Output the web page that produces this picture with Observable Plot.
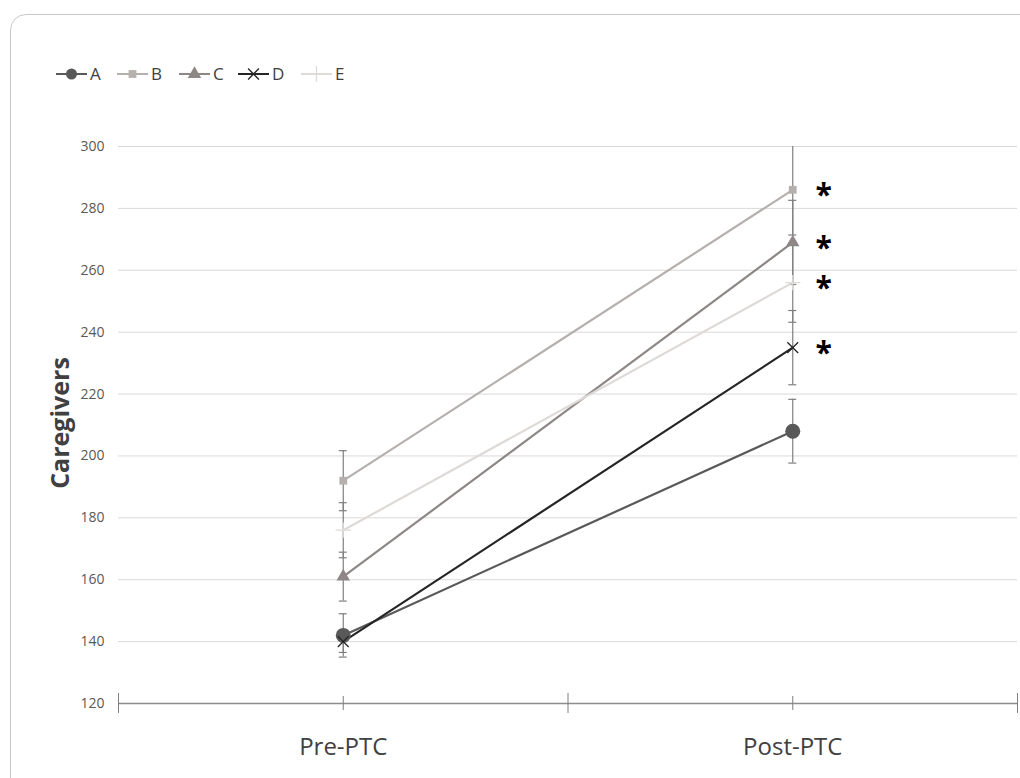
<!DOCTYPE html>
<html>
<head>
<meta charset="utf-8">
<script src="https://cdn.jsdelivr.net/npm/d3@7"></script>
<script src="https://cdn.jsdelivr.net/npm/@observablehq/plot@0.6"></script>
<style>
  html, body { margin: 0; padding: 0; background: #fff; overflow: hidden; width: 1020px; height: 778px; }
  #card { position: absolute; left: 10px; top: 14px; width: 1030px; height: 790px; border: 1.5px solid #c9c9c9; border-radius: 16px; box-sizing: border-box; }
  #legend { position: absolute; left: 0; top: 60px; }
  #chart { position: absolute; left: 0; top: 100px; }
  svg { font-family: "Open Sans", sans-serif; }
</style>
</head>
<body>
<div id="card"></div>
<div id="legend"></div>
<div id="chart"></div>
<script>
// ---- data ----
const phases = ["Pre-PTC", "Post-PTC"];
const series = ["A", "B", "C", "D", "E"];
const preValues  = [142, 192, 161, 140, 176];
const postValues = [208, 286, 269, 235, 256];
const preErrors  = [7, 9.7, 7.9, 3.5, 8.9];
const postErrors = [10.3, 14.6, 13.6, 12, 12.8];
const significant = [false, true, true, true, true];
const yTicks = [120, 140, 160, 180, 200, 220, 240, 260, 280, 300];
const yLabel = "Caregivers";

// ---- styles ----
const colors  = ["#595959", "#b5b0ae", "#8d8786", "#262626", "#dedad8"];
const symbols = ["circle", "square", "triangle", "times", "plus"];
const radii   = [7.5, 4.4, 5, 5, 5];
const isStrokeSym = [false, false, false, true, true];

const rows = [];
series.forEach((s, i) => {
  rows.push({series: s, phase: 0, x: 0.5, y: preValues[i], err: preErrors[i], sig: false, i});
  rows.push({series: s, phase: 1, x: 1.5, y: postValues[i], err: postErrors[i], sig: significant[i], i});
});

const color = d => colors[d.i];

const plot = Plot.plot({
  width: 1020,
  height: 678,
  marginLeft: 118,
  marginRight: 3,
  marginTop: 46,
  marginBottom: 75,
  style: {fontFamily: "'Open Sans', sans-serif", background: "transparent"},
  x: {domain: [0, 2]},
  y: {domain: [120, 300]},
  r: {type: "identity"},
  marks: [
    Plot.ruleY(yTicks.filter(t => t > 120), {stroke: "#d9d9d9", strokeWidth: 1}),
    Plot.ruleY([120], {stroke: "#8c8c8c", strokeWidth: 1.5}),
    Plot.ruleX([0, 1, 2], {y1: 120, y2: 120, insetTop: -10, insetBottom: -10, stroke: "#7f7f7f", strokeWidth: 1}),
    Plot.ruleX([0.5, 1.5], {y1: 120, y2: 120, insetTop: -7, insetBottom: -7, stroke: "#7f7f7f", strokeWidth: 1}),
    Plot.axisY({ticks: yTicks, tickSize: 0, tickPadding: 14, fontSize: 14, fill: "#595959", label: null}),
    Plot.text([yLabel], {frameAnchor: "left", dx: -58, dy: -2, rotate: -90, text: d => d, fontSize: 25, fontWeight: "bold", fill: "#404040", textAnchor: "middle"}),
    Plot.axisX({ticks: [0.5, 1.5], tickFormat: d => phases[Math.floor(d)], tickSize: 0, tickPadding: 34, fontSize: 24, fill: "#404040", label: null}),
    // error bars
    Plot.ruleX(rows, {x: "x", y1: d => d.y - d.err, y2: d => d.y + d.err, stroke: "#7f7f7f", strokeWidth: 1.2, clip: true}),
    Plot.ruleY(rows, {y: d => d.y - d.err, x1: "x", x2: "x", insetLeft: -4, insetRight: -4, stroke: "#7f7f7f", strokeWidth: 1.2, clip: true}),
    Plot.ruleY(rows, {y: d => d.y + d.err, x1: "x", x2: "x", insetLeft: -4, insetRight: -4, stroke: "#7f7f7f", strokeWidth: 1.2, clip: true}),
    // lines
    Plot.line(rows, {x: "x", y: "y", z: "series", stroke: color, strokeWidth: 2.2}),
    // markers
    Plot.dot(rows.filter(d => !isStrokeSym[d.i]), {x: "x", y: "y", symbol: d => symbols[d.i], r: d => radii[d.i], fill: color, stroke: "none"}),
    Plot.dot(rows.filter(d => isStrokeSym[d.i]), {x: "x", y: "y", symbol: d => symbols[d.i], r: d => radii[d.i], stroke: color, strokeWidth: 1.3, fill: "none"}),
    // significance
    Plot.text(rows.filter(d => d.sig), {x: "x", y: "y", text: () => "*", dx: 31, dy: 6, fontSize: 30, fontWeight: "bold", fill: "#000"})
  ]
});
document.getElementById("chart").appendChild(plot);

// ---- legend ----
const lx = [56, 117, 179, 238, 301];
const lsvg = d3.select("#legend").append("svg").attr("width", 420).attr("height", 30)
  .style("font-family", "'Open Sans', sans-serif");
const cy = 14;
series.forEach((s, i) => {
  const g = lsvg.append("g").attr("transform", `translate(${lx[i]},0)`);
  g.append("line").attr("x1", 0).attr("x2", 31).attr("y1", cy).attr("y2", cy)
    .attr("stroke", colors[i]).attr("stroke-width", 2);
  const sym = d3.symbol().type({circle: d3.symbolCircle, square: d3.symbolSquare, triangle: d3.symbolTriangle, times: d3.symbolTimes, plus: d3.symbolPlus}[symbols[i]])
    .size(Math.PI * Math.pow(i === 0 ? 5.5 : radii[i], 2));
  const p = g.append("path").attr("d", sym()).attr("transform", `translate(15.5,${cy})`);
  if (isStrokeSym[i]) p.attr("fill", "none").attr("stroke", colors[i]).attr("stroke-width", 1.3);
  else p.attr("fill", colors[i]);
  g.append("text").attr("x", 34).attr("y", cy).attr("dy", "0.36em").attr("font-size", 17)
    .attr("fill", "#404040").text(s);
});
</script>
</body>
</html>
